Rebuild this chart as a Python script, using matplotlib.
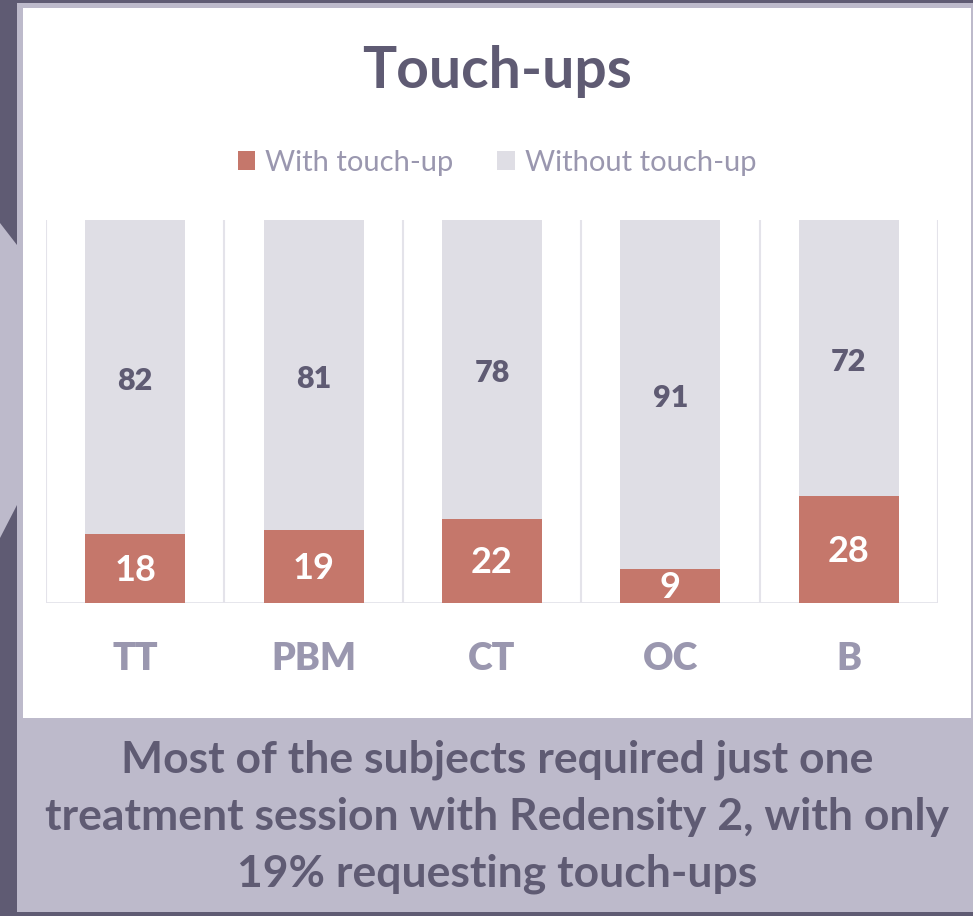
import numpy as np
import matplotlib.pyplot as plt
from matplotlib.patches import Rectangle, Polygon

# данные
categories = ['TT', 'PBM', 'CT', 'OC', 'B']
with_touchup = [18, 19, 22, 9, 28]
without_touchup = [82, 81, 78, 91, 72]

plt.rcParams['font.family'] = ['Lato', 'DejaVu Sans']

W, H = 973, 916
fig = plt.figure(figsize=(W / 100, H / 100), dpi=100)
fig.patch.set_facecolor('#5f5b73')

def px_rect(x0, y0, x1, y1, color):
    # прямоугольник в пикселях (y сверху вниз)
    fig.patches.append(Rectangle((x0 / W, 1 - y1 / H), (x1 - x0) / W, (y1 - y0) / H,
                                 transform=fig.transFigure, facecolor=color,
                                 edgecolor='none', zorder=-5))

# фон слева
fig.patches.append(Polygon([(0, 1 - 223 / H), (17 / W, 1 - 245 / H), (17 / W, 1 - 505 / H), (0, 1 - 538 / H)],
                           closed=True, transform=fig.transFigure, facecolor='#bdbacb',
                           edgecolor='none', zorder=-5))
px_rect(17, 3, 973, 912, '#bdbacb')
px_rect(23, 8, 971, 718, 'white')

ax = fig.add_axes([46 / W, 1 - 603 / H, (938 - 46) / W, (603 - 220) / H])
ax.set_facecolor('none')
ax.set_zorder(2)

x = np.arange(len(categories))
red = '#c5776b'
grey = '#dfdee5'
ax.bar(x, with_touchup, width=0.56, color=red, zorder=2, label='With touch-up')
ax.bar(x, without_touchup, width=0.56, bottom=with_touchup, color=grey, zorder=2, label='Without touch-up')

for i in range(len(categories)):
    ax.text(x[i], with_touchup[i] / 2 - 0.5, str(with_touchup[i]), ha='center', va='center',
            color='white', fontsize=26, fontweight='bold', zorder=3)
    ax.text(x[i], with_touchup[i] + without_touchup[i] / 2 - 1, str(without_touchup[i]), ha='center',
            va='center', color='#5f5b73', fontsize=22, fontweight='heavy', zorder=3)

ax.set_xlim(-0.5, len(categories) - 0.5)
ax.set_ylim(0, 100)
for b in np.arange(-0.5, len(categories), 1.0):
    ax.axvline(b, color='#e4e3ea', lw=1.5, zorder=1)
ax.axhline(0, color='#e4e3ea', lw=2, zorder=1)
for s in ax.spines.values():
    s.set_visible(False)
ax.set_yticks([])
ax.set_xticks(x)
ax.set_xticklabels(categories, fontsize=27, fontweight='heavy', color='#9a97af')
ax.tick_params(axis='x', length=0, pad=28)

fig.text(497 / W, 1 - 71 / H, 'Touch-ups', ha='center', va='center', fontsize=41,
         fontweight='bold', color='#5f5b73')

leg = fig.legend(loc='center', bbox_to_anchor=(497 / W, 1 - 163 / H), ncol=2, frameon=False,
                 fontsize=21, handlelength=0.6, handleheight=0.6, columnspacing=1.5, handletextpad=0.35)
for t in leg.get_texts():
    t.set_color('#9a97af')

lines = ['Most of the subjects required just one',
         'treatment session with Redensity 2, with only',
         '19% requesting touch-ups']
for k, line in enumerate(lines):
    fig.text(497 / W, 1 - (760 + 57 * k) / H, line, ha='center', va='center', fontsize=32,
             fontweight='bold', color='#5f5b73')

fig.savefig('out.png', dpi=100, facecolor=fig.get_facecolor())
